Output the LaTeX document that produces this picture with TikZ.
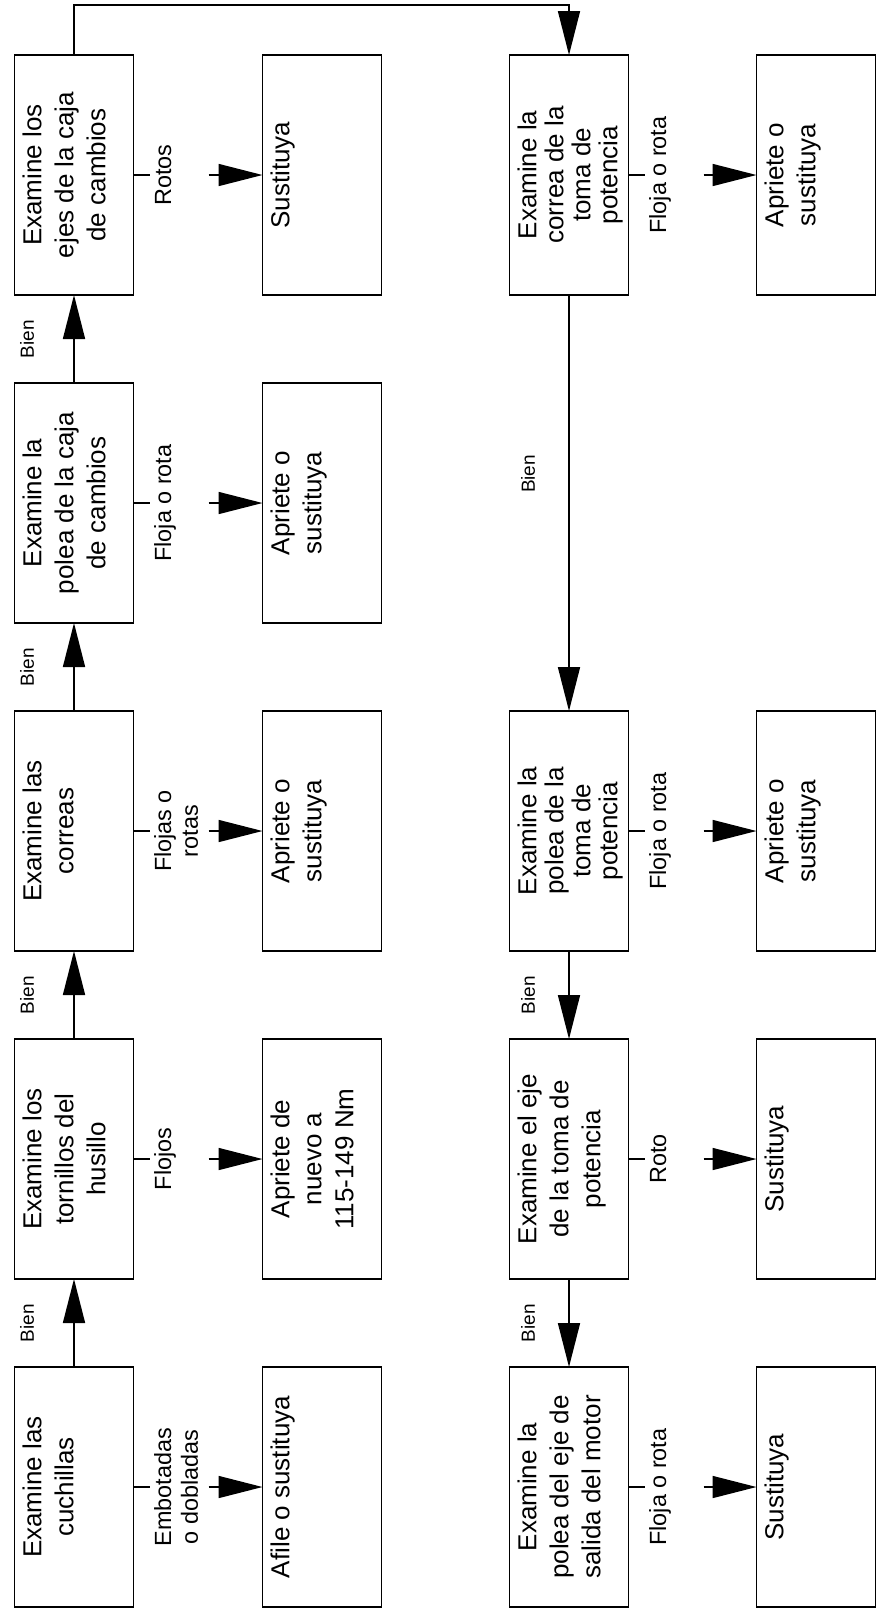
\documentclass[tikz,border=0pt]{standalone}
\usepackage{fontspec}
\setmainfont{Liberation Sans}
\usepackage{graphicx}
\usetikzlibrary{positioning, arrows.meta}
\newcommand{\boxtxt}[2][16pt]{\rotatebox{90}{\parbox[c][59.5pt][t]{120pt}{\centering\fontsize{13}{#1}\selectfont\vspace*{4pt}#2}}}
\newcommand{\faulttxt}[1]{\makebox[29.5pt][l]{\hspace{1.5pt}\rotatebox{90}{\fontsize{11.7}{14.5}\selectfont\renewcommand{\arraystretch}{0.92}\begin{tabular}{@{}c@{}}#1\end{tabular}}}}
\newcommand{\bientxt}{\rotatebox{90}{\fontsize{9.5}{11}\selectfont Bien}}

\begin{document}
\begin{tikzpicture}[node distance = 44pt and 64.5pt, thick, decision/.style={draw, inner sep = 0pt, outer sep = 0pt}, action/.style={draw, inner sep = 0pt, outer sep = 0pt}, fault/.style={inner sep = 0pt, outer sep = 0pt}, bien/.style={inner sep = 0pt, outer sep = 0pt}, arr/.style={-{Triangle[length = 22pt, width = 11pt]}}]
  \useasboundingbox (0,0) rectangle (440pt,-804pt);
  % nodes
  \node [decision] (cuchillas) at (37pt,-743.5pt) {\boxtxt{Examine las\\cuchillas}};
  \node [decision][above = of cuchillas] (tornillos) {\boxtxt{Examine los\\tornillos del\\husillo}};
  \node [decision][above = of tornillos] (correas) {\boxtxt{Examine las\\correas}};
  \node [decision][above = of correas] (poleacaja) {\boxtxt{Examine la\\polea de la caja\\de cambios}};
  \node [decision][above = of poleacaja] (ejes) {\boxtxt{Examine los\\ejes de la caja\\de cambios}};

  \node [action][right = of cuchillas] (afile) {\boxtxt{Afile o sustituya}};
  \node [action][right = of tornillos] (reapriete) {\boxtxt{Apriete de\\nuevo a\\115-149 Nm}};
  \node [action][right = of correas] (apcorreas) {\boxtxt{Apriete o\\sustituya}};
  \node [action][right = of poleacaja] (appoleacaja) {\boxtxt{Apriete o\\sustituya}};
  \node [action][right = of ejes] (sustejes) {\boxtxt{Sustituya}};

  \node [decision][right = 64pt of afile] (poleamotor) {\boxtxt{Examine la\\polea del eje de\\salida del motor}};
  \node [decision][right = 64pt of reapriete] (ejetoma) {\boxtxt{Examine el eje\\de la toma de\\potencia}};
  \node [decision][right = 64pt of apcorreas] (poleatoma) {\boxtxt[13.5pt]{Examine la\\polea de la\\toma de\\potencia}};
  \node [decision][right = 64pt of sustejes] (correatoma) {\boxtxt[13.5pt]{Examine la\\correa de la\\toma de\\potencia}};

  \node [action][right = 64pt of poleamotor] (sustmotor) {\boxtxt{Sustituya}};
  \node [action][right = 64pt of ejetoma] (sustejetoma) {\boxtxt{Sustituya}};
  \node [action][right = 64pt of poleatoma] (appoleatoma) {\boxtxt{Apriete o\\sustituya}};
  \node [action][right = 64pt of correatoma] (apcorreatoma) {\boxtxt{Apriete o\\sustituya}};

  % fault labels
  \node [fault][right = 8pt of cuchillas] (embotadas) {\faulttxt{Embotadas\\o dobladas}};
  \node [fault][right = 8pt of tornillos] (flojos) {\faulttxt{Flojos}};
  \node [fault][right = 8pt of correas] (flojas) {\faulttxt{Flojas o\\rotas}};
  \node [fault][right = 8pt of poleacaja] (flojacaja) {\faulttxt{Floja o rota}};
  \node [fault][right = 8pt of ejes] (rotos) {\faulttxt{Rotos}};
  \node [fault][right = 8pt of poleamotor] (flojamotor) {\faulttxt{Floja o rota}};
  \node [fault][right = 8pt of ejetoma] (roto) {\faulttxt{Roto}};
  \node [fault][right = 8pt of poleatoma] (flojapolea) {\faulttxt{Floja o rota}};
  \node [fault][right = 8pt of correatoma] (flojacorrea) {\faulttxt{Floja o rota}};

  % edges
  \draw [arr] (cuchillas) -- node [bien, left = 20pt] {\bientxt} (tornillos);
  \draw [arr] (tornillos) -- node [bien, left = 20pt] {\bientxt} (correas);
  \draw [arr] (correas) -- node [bien, left = 20pt] {\bientxt} (poleacaja);
  \draw [arr] (poleacaja) -- node [bien, left = 20pt] {\bientxt} (ejes);
  \draw [arr] (ejes.north) |- ([yshift = 25pt]correatoma.north) -- (correatoma.north);
  \draw [arr] (correatoma) -- node [bien, left = 17pt, pos = 0.43] {\bientxt} (poleatoma);
  \draw [arr] (poleatoma) -- node [bien, left = 17pt] {\bientxt} (ejetoma);
  \draw [arr] (ejetoma) -- node [bien, left = 17pt] {\bientxt} (poleamotor);

  \draw (cuchillas.east) -- (embotadas.west);
  \draw [arr] (embotadas.east) -- (afile.west);
  \draw (tornillos.east) -- (flojos.west);
  \draw [arr] (flojos.east) -- (reapriete.west);
  \draw (correas.east) -- (flojas.west);
  \draw [arr] (flojas.east) -- (apcorreas.west);
  \draw (poleacaja.east) -- (flojacaja.west);
  \draw [arr] (flojacaja.east) -- (appoleacaja.west);
  \draw (ejes.east) -- (rotos.west);
  \draw [arr] (rotos.east) -- (sustejes.west);

  \draw (poleamotor.east) -- (flojamotor.west);
  \draw [arr] (flojamotor.east) -- (sustmotor.west);
  \draw (ejetoma.east) -- (roto.west);
  \draw [arr] (roto.east) -- (sustejetoma.west);
  \draw (poleatoma.east) -- (flojapolea.west);
  \draw [arr] (flojapolea.east) -- (appoleatoma.west);
  \draw (correatoma.east) -- (flojacorrea.west);
  \draw [arr] (flojacorrea.east) -- (apcorreatoma.west);
\end{tikzpicture}
\end{document}
